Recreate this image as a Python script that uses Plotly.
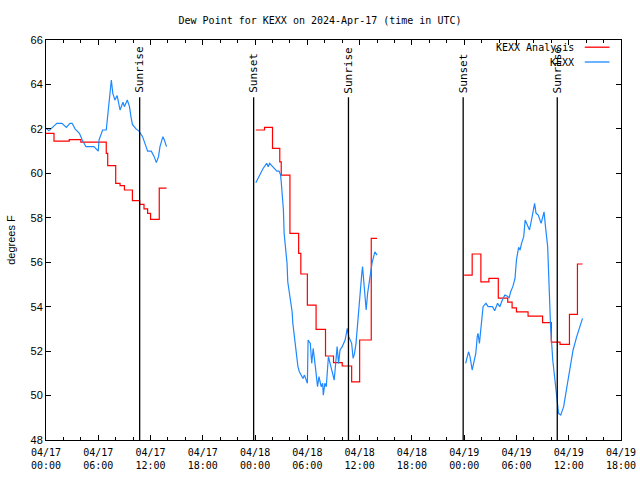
import pandas as pd
import plotly.graph_objects as go

title = "Dew Point for KEXX on 2024-Apr-17 (time in UTC)"

# Observations (KEXX), per day: times (UTC) and dew point (F)
obs_d1_date = "2024-04-17"
obs_d1_times = ["00:00", "00:20", "00:50", "01:15", "01:50", "02:20", "02:45", "03:00", "03:20", "03:50",
                "04:10", "04:35", "05:30", "06:00", "06:05", "06:30", "06:55", "07:10", "07:30", "07:40",
                "07:55", "08:10", "08:25", "08:30", "08:50", "09:00", "09:20", "09:35", "09:45", "09:55",
                "10:20", "10:40", "11:05", "11:25", "11:40", "12:05", "12:25", "12:40", "12:55", "13:05",
                "13:25", "13:35", "13:50"]
obs_d1_vals = [62.03, 61.92, 62.1, 62.25, 62.25, 62.07, 62.25, 62.25, 62.0, 61.8,
               61.5, 61.2, 61.2, 61.0, 61.5, 61.95, 61.95, 63.0, 64.2, 63.6,
               63.3, 63.5, 63.1, 62.85, 63.2, 63.0, 63.3, 63.0, 62.55, 62.2,
               62.0, 61.9, 61.65, 61.3, 61.0, 61.0, 60.75, 60.48, 60.75, 61.2,
               61.65, 61.5, 61.2]

obs_d2_date = "2024-04-18"
obs_d2_times = ["00:05", "00:30", "00:55", "01:20", "01:30", "01:40", "02:05", "02:30", "02:45", "02:55",
                "03:00", "03:15", "03:20", "03:30", "03:40", "03:45", "03:55", "04:00", "04:15", "04:20",
                "04:30", "04:40", "04:45", "04:55", "05:05", "05:20", "05:30", "05:40", "05:50", "06:00",
                "06:05", "06:20", "06:30", "06:40", "06:55", "07:10", "07:20", "07:35", "07:45", "07:50",
                "08:00", "08:10", "08:25", "08:35", "08:50", "09:05", "09:25", "09:35", "09:45", "10:00",
                "10:20", "10:35", "10:45", "10:55", "11:05", "11:15", "11:25", "11:35", "11:45", "12:00",
                "12:15", "12:20", "12:35", "12:45", "12:55", "13:05", "13:10", "13:20", "13:25", "13:45",
                "14:00"]
obs_d2_vals = [59.58, 59.92, 60.22, 60.45, 60.3, 60.45, 60.27, 60.1, 60.1, 59.95,
               59.62, 58.35, 57.3, 56.7, 55.95, 55.12, 54.67, 54.3, 53.77, 53.25,
               52.65, 52.2, 51.68, 51.3, 51.07, 50.92, 50.77, 50.92, 50.77, 50.55,
               52.5, 52.35, 51.45, 52.12, 51.3, 50.4, 50.85, 50.4, 50.55, 50.02,
               50.55, 50.4, 51.75, 51.45, 51.15, 50.7, 52.2, 51.45, 52.05, 52.2,
               52.5, 53.02, 52.65, 52.5, 52.35, 51.68, 51.9, 52.35, 53.25, 54.22,
               55.5, 55.8, 54.6, 53.85, 54.6, 55.05, 55.2, 55.5, 55.95, 56.47,
               56.32]

obs_d3_date = "2024-04-19"
obs_d3_times = ["00:10", "00:30", "00:40", "00:55", "01:05", "01:20", "01:30", "01:35", "01:45", "01:55",
                "02:10", "02:30", "02:45", "03:15", "03:30", "03:50", "04:05", "04:25", "04:40", "04:55",
                "05:10", "05:20", "05:35", "05:50", "06:00", "06:15", "06:25", "06:35", "06:50", "07:00",
                "07:10", "07:30", "07:50", "08:05", "08:15", "08:30", "08:50", "09:00", "09:10", "09:20",
                "09:35", "09:45", "09:55", "10:10", "10:25", "10:35", "10:50", "11:05", "11:25", "11:40",
                "11:55", "12:15", "12:30", "12:55", "13:15", "13:35"]
obs_d3_vals = [51.45, 51.97, 51.75, 51.15, 51.45, 51.9, 52.65, 52.8, 52.35, 53.17,
               54.0, 54.15, 54.0, 54.0, 53.82, 54.15, 54.0, 54.33, 54.52, 54.48,
               54.4, 54.67, 54.9, 55.27, 56.1, 56.67, 56.55, 56.85, 57.15, 57.9,
               57.75, 57.45, 58.12, 58.65, 58.2, 58.12, 57.75, 58.05, 58.27, 57.6,
               56.7, 54.9, 53.1, 51.6, 50.7, 50.1, 49.2, 49.12, 49.5, 50.1,
               50.7, 51.45, 52.05, 52.65, 53.1, 53.47]

# Analysis (KEXX Analysis), step values
ana_d1_times = ["00:00", "00:55", "02:40", "04:00", "06:55", "07:05", "08:00", "08:30", "09:00", "09:55",
                "10:45", "11:15", "11:40", "12:00", "13:00", "13:50"]
ana_d1_vals = [61.8, 61.45, 61.52, 61.4, 60.9, 60.35, 59.55, 59.45, 59.25, 58.77,
               58.6, 58.4, 58.2, 57.93, 59.33, 59.33]
ana_d2_times = ["00:05", "01:05", "02:00", "02:50", "03:00", "04:00", "05:00", "05:15", "06:00", "07:00",
                "08:05", "09:00", "10:00", "11:05", "12:00", "13:20", "14:00"]
ana_d2_vals = [61.95, 62.07, 61.12, 60.52, 59.92, 57.3, 56.4, 55.47, 54.07, 52.98,
               51.78, 51.48, 51.33, 50.62, 52.5, 57.07, 57.07]
ana_d3_times = ["00:00", "00:55", "01:55", "02:50", "03:55", "05:00", "05:30", "06:00", "07:20", "09:00",
                "10:00", "11:00", "12:05", "13:00", "13:35"]
ana_d3_vals = [55.42, 56.37, 55.12, 55.27, 54.38, 54.2, 53.95, 53.77, 53.57, 53.28,
               52.4, 52.3, 53.65, 55.92, 55.92]

sun_times = ["2024-04-17 10:45", "2024-04-17 23:50", "2024-04-18 10:43", "2024-04-18 23:53", "2024-04-19 10:41"]
sun_labels = ["Sunrise", "Sunset", "Sunrise", "Sunset", "Sunrise"]

series_names = ["KEXX Analysis", "KEXX"]
series_colors = ["#ff0000", "#1e88ff"]

x_start = "2024-04-17 00:00"
x_end = "2024-04-19 18:00"
y_min, y_max = 48, 66


def join(days):
    xs, ys = [], []
    for i, (date, times, vals) in enumerate(days):
        if i > 0:
            xs.append(None)
            ys.append(None)
        xs += [pd.Timestamp(f"{date} {t}") for t in times]
        ys += list(vals)
    return xs, ys


obs_x, obs_y = join([(obs_d1_date, obs_d1_times, obs_d1_vals),
                     (obs_d2_date, obs_d2_times, obs_d2_vals),
                     (obs_d3_date, obs_d3_times, obs_d3_vals)])
ana_x, ana_y = join([(obs_d1_date, ana_d1_times, ana_d1_vals),
                     (obs_d2_date, ana_d2_times, ana_d2_vals),
                     (obs_d3_date, ana_d3_times, ana_d3_vals)])

mono = "DejaVu Sans Mono"
sans = "Liberation Sans"

fig = go.Figure()
fig.add_trace(go.Scatter(x=ana_x, y=ana_y, mode="lines", line=dict(color=series_colors[0], width=1.2, shape="hv"),
                         connectgaps=False, name=series_names[0], showlegend=False, hoverinfo="skip"))
fig.add_trace(go.Scatter(x=obs_x, y=obs_y, mode="lines", line=dict(color=series_colors[1], width=1.2),
                         connectgaps=False, name=series_names[1], showlegend=False, hoverinfo="skip"))

for t, lab in zip(sun_times, sun_labels):
    fig.add_shape(type="line", xref="x", yref="paper", x0=t, x1=t, y0=0, y1=0.857,
                  line=dict(color="black", width=1.3))
    fig.add_annotation(x=t, xref="x", y=0.862, yref="paper", text=lab, textangle=-90,
                       showarrow=False, xanchor="center", yanchor="bottom",
                       font=dict(family=mono, size=11, color="black"))

# legend drawn gnuplot-style: text then line sample
for i, (nm, col) in enumerate(zip(series_names, series_colors)):
    yy = 0.982 - i * 0.037
    fig.add_annotation(x=0.922, xref="paper", y=yy, yref="paper", text=nm, showarrow=False,
                       xanchor="right", yanchor="middle", font=dict(family=mono, size=10, color="black"))
    fig.add_shape(type="line", xref="paper", yref="paper", x0=0.937, x1=0.98, y0=yy, y1=yy,
                  line=dict(color=col, width=1.3))

fig.update_layout(
    width=640, height=480,
    margin=dict(l=46, r=19, t=40, b=40, autoexpand=False),
    paper_bgcolor="white", plot_bgcolor="white",
    title=dict(text=title, x=0.5, xanchor="center", y=0.958, yanchor="middle",
               font=dict(family=mono, size=10, color="black")),
    showlegend=False,
)
fig.update_xaxes(range=[x_start, x_end], type="date", dtick=6 * 3600 * 1000, tick0=x_start,
                 tickformat="%m/%d<br>%H:%M", ticks="inside", ticklen=5, tickcolor="black",
                 showline=True, linecolor="black", linewidth=1, mirror="allticks", showgrid=False,
                 zeroline=False, automargin=False, ticklabelstandoff=3,
                 tickfont=dict(family=mono, size=10, color="black"),
                 minor=dict(dtick=2 * 3600 * 1000, ticks="inside", ticklen=3, tickcolor="black"))
fig.update_yaxes(range=[y_min, y_max], dtick=2, ticks="inside", ticklen=5, tickcolor="black",
                 showline=True, linecolor="black", linewidth=1, mirror="allticks", showgrid=False,
                 zeroline=False, automargin=False, tickfont=dict(family=sans, size=11, color="black"),
                 title=dict(text="degrees F", font=dict(family=sans, size=11, color="black"), standoff=12))

fig.write_html("out.html", config={"displayModeBar": False},
               post_script="document.body.style.margin='0px';")
